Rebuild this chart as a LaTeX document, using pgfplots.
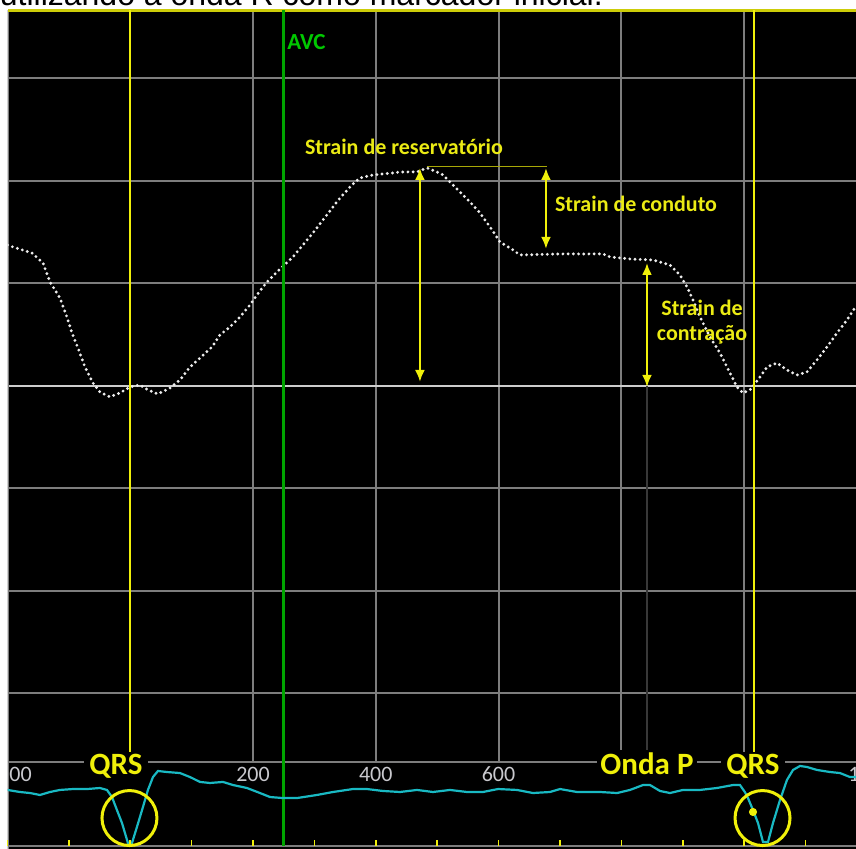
\documentclass[border=0pt]{standalone}
\usepackage{fontspec}
\setmainfont{Carlito}
\newfontfamily\arialf{Liberation Sans}
\usepackage{pgfplots}
\usepackage{pgfplotstable}
\pgfplotsset{compat=1.18}
\usetikzlibrary{arrows.meta}
\definecolor{ylw}{RGB}{240,240,10}
\definecolor{ytxt}{RGB}{235,235,20}
\definecolor{gridc}{RGB}{125,125,125}
\definecolor{zeroc}{RGB}{205,205,205}
\definecolor{ecgc}{RGB}{25,185,195}
\definecolor{grn}{RGB}{0,165,0}
\definecolor{grntxt}{RGB}{0,200,0}
\definecolor{tickc}{RGB}{200,200,205}
\definecolor{dotc}{RGB}{235,235,235}

\pgfplotstableread{
t y
-200 13.76
-191.1 13.56
-160.2 12.98
-142.2 12.0
-130.8 10.15
-114.6 8.59
-103.2 6.73
-95.0 5.17
-85.2 3.71
-73.8 1.85
-60.8 0.29
-49.4 -0.59
-33.1 -1.07
-16.8 -0.68
-0.5 -0.10
15.8 0.10
28.8 -0.39
45.1 -0.78
64.7 -0.20
81.0 0.59
97.3 1.85
113.6 2.73
133.1 3.80
146.1 4.98
162.4 5.76
178.7 6.73
195.0 7.90
206.4 8.88
222.7 10.15
243.9 11.41
265.1 12.59
281.3 13.76
297.6 14.93
314.0 16.20
330.2 17.46
341.7 18.34
361.1 19.61
374.2 20.29
395.4 20.59
427.9 20.78
439.4 20.88
467.1 20.88
483.4 21.27
499.7 20.88
509.4 20.59
520.9 19.90
537.2 18.93
553.5 17.95
569.7 16.88
586.1 15.51
602.4 14.05
623.5 13.27
634.9 12.78
700.1 12.88
770.1 12.88
781.5 12.59
814.1 12.39
851.6 12.29
879.2 11.80
895.5 10.83
907.0 9.66
916.8 8.39
928.1 6.73
944.4 4.78
960.7 3.22
977.0 1.27
988.4 -0.10
998.2 -0.68
1009.6 -0.39
1025.9 0.88
1037.3 1.85
1053.6 2.24
1069.8 1.56
1086.1 1.07
1102.4 1.37
1118.7 2.54
1135.0 3.80
1151.3 5.17
1167.6 6.44
1182.3 7.80
}\straindata

\pgfplotstableread{
t y
-200 -39.41
-179.7 -39.61
-163.4 -39.71
-147.1 -39.90
-130.8 -39.61
-114.6 -39.41
-93.3 -39.32
-70.6 -39.32
-49.4 -39.22
-38.0 -39.41
-29.8 -40.10
-21.7 -41.37
-13.5 -42.63
-3.8 -44.59
2.8 -44.59
10.9 -43.02
20.7 -41.07
28.8 -39.41
37.0 -38.15
45.1 -37.56
59.8 -37.66
81.0 -37.76
97.3 -38.15
113.6 -38.63
129.8 -38.73
151.1 -38.63
167.4 -38.93
190.1 -39.22
211.3 -39.71
227.6 -40.10
248.7 -40.20
271.6 -40.20
304.2 -39.90
330.2 -39.61
362.8 -39.32
385.6 -39.32
411.7 -39.51
439.4 -39.61
467.1 -39.41
493.1 -39.61
520.9 -39.41
548.6 -39.61
574.6 -39.61
599.1 -39.32
630.0 -39.41
656.1 -39.71
683.7 -39.61
700.1 -39.32
727.8 -39.61
765.2 -39.61
793.0 -39.71
814.1 -39.41
835.3 -38.93
846.7 -38.93
863.0 -39.51
879.2 -39.71
900.5 -39.41
928.1 -39.41
955.8 -39.22
981.9 -38.93
993.3 -38.93
1001.2 -39.61
1006.3 -40.20
1014.5 -41.37
1022.6 -42.63
1030.8 -44.49
1038.9 -44.49
1047.1 -42.63
1058.5 -40.39
1069.8 -38.44
1079.7 -37.46
1091.1 -37.07
1102.4 -37.17
1118.7 -37.46
1139.9 -37.66
1156.2 -37.76
1172.5 -38.15
1182.3 -38.15
}\ecgdata

\begin{document}
\begin{tikzpicture}
\node[anchor=base west, inner sep=0pt, font=\arialf\fontsize{16}{19}\selectfont] at (-4pt,421.5pt) {utilizando a onda R como marcador inicial.};
\begin{axis}[at={(0,0)}, anchor=south west, scale only axis,
  width=424.25pt, height=419.5pt,
  xmin=-200, xmax=1182.3, ymin=-45.17, ymax=36.68,
  axis line style={draw=none}, ticks=none,
  axis background/.style={fill=black}]
% vertical grid
\pgfplotsinvokeforeach{0,200,400,600,800,1000}{
  \addplot[gridc, line width=1pt] coordinates {(#1,36.68) (#1,-36.68)};
}
% horizontal grid
\pgfplotsinvokeforeach{-30,-20,-10,10,20,30}{
  \addplot[gridc, line width=1pt] coordinates {(-200,#1) (1182.3,#1)};
}
\addplot[zeroc, line width=1.2pt] coordinates {(-200,0) (1182.3,0)};
\addplot[gridc, line width=1pt] coordinates {(-200,-36.68) (1182.3,-36.68)};
\addplot[gridc, line width=1.4pt] coordinates {(-200,-44.88) (1182.3,-44.88)};
\addplot[gridc, line width=1pt] coordinates {(-199,36.68) (-199,-45.17)};
\addplot[ylw!85!black, line width=2pt] coordinates {(-200,36.68) (1182.3,36.68)};
\addplot[black!78!white, line width=0.6pt] coordinates {(841.8,0) (841.8,-36.68)};
% bottom ticks
\addplot[ylw, only marks, mark=|, mark size=1.5pt, mark options={line width=0.8pt}] coordinates {
(-200,-44.59) (-100,-44.59) (0,-44.59) (100,-44.59) (200,-44.59) (300,-44.59) (400,-44.59)
(500,-44.59) (600,-44.59) (700,-44.59) (800,-44.59) (900,-44.59) (1000,-44.59) (1100,-44.59)};
% strain curve
\addplot[dotc, line width=1.6pt, line cap=round, dash pattern=on 0pt off 2.6pt] table {\straindata};
% event lines
\addplot[grn, line width=1.5pt] coordinates {(249,36.68) (249,-44.88)};
\addplot[ylw, line width=1pt] coordinates {(0,36.68) (0,-35.7)};
\addplot[ylw, line width=1pt] coordinates {(1016.1,36.68) (1016.1,-35.7)};
% annotations
\addplot[ylw!70!black, line width=0.5pt] coordinates {(483.4,21.37) (679,21.37)};
\addplot[ylw, line width=1.2pt, {Latex[length=6pt,width=5pt]}-{Latex[length=6pt,width=5pt]}] coordinates {(471.9,21.27) (471.9,0.39)};
\addplot[ylw, line width=1.2pt, {Latex[length=6pt,width=5pt]}-{Latex[length=6pt,width=5pt]}] coordinates {(677.2,21.27) (677.2,13.37)};
\addplot[ylw, line width=1.2pt, {Latex[length=6pt,width=5pt]}-{Latex[length=6pt,width=5pt]}] coordinates {(841.8,12.0) (841.8,-0.1)};
\node[anchor=base, text=ytxt, font=\bfseries\fontsize{11}{13}\selectfont, inner sep=0pt] at (axis cs:445.9,22.54) {Strain de reservatório};
\node[anchor=base, text=ytxt, font=\bfseries\fontsize{11}{13}\selectfont, inner sep=0pt] at (axis cs:823.9,16.98) {Strain de conduto};
\node[anchor=base, text=ytxt, font=\bfseries\fontsize{11}{13}\selectfont, inner sep=0pt] at (axis cs:931.4,6.83) {Strain de};
\node[anchor=base, text=ytxt, font=\bfseries\fontsize{11}{13}\selectfont, inner sep=0pt] at (axis cs:931.4,4.39) {contração};
\node[anchor=base west, text=grntxt, font=\bfseries\fontsize{11.5}{12}\selectfont, inner sep=0pt] at (axis cs:255.4,32.78) {AVC};
% tick labels
\node[anchor=base, text=tickc, font=\fontsize{11}{11}\selectfont, inner sep=0pt] at (axis cs:200,-38.63) {200};
\node[anchor=base, text=tickc, font=\fontsize{11}{11}\selectfont, inner sep=0pt] at (axis cs:400,-38.63) {400};
\node[anchor=base, text=tickc, font=\fontsize{11}{11}\selectfont, inner sep=0pt] at (axis cs:600,-38.63) {600};
\node[anchor=base west, text=tickc, font=\fontsize{11}{11}\selectfont, inner sep=0pt] at (axis cs:-197.6,-38.63) {00};
\node[anchor=base west, text=tickc, font=\fontsize{11}{11}\selectfont, inner sep=0pt] at (axis cs:1169.3,-38.63) {1};
% ECG labels
\node[anchor=base, fill=black, inner xsep=2.5pt, inner ysep=1.5pt, text=ylw, font=\bfseries\fontsize{15.5}{16}\selectfont] at (axis cs:-23.3,-37.95) {QRS};
\node[anchor=base, fill=black, inner xsep=1.5pt, inner ysep=1.5pt, text=ylw, font=\bfseries\fontsize{15.5}{16}\selectfont] at (axis cs:841.8,-37.95) {Onda P};
\node[anchor=base, fill=black, inner xsep=2.5pt, inner ysep=1.5pt, text=ylw, font=\bfseries\fontsize{15.5}{16}\selectfont] at (axis cs:1014.5,-37.95) {QRS};
% ECG trace
\addplot[ecgc, line width=1.1pt] table {\ecgdata};
\addplot[ylw, only marks, mark=o, mark size=13.75pt, mark options={line width=1.5pt}] coordinates {(-1.3,-42.15) (1030,-42.15)};
\addplot[ylw, only marks, mark=*, mark size=1.8pt] coordinates {(1014.5,-41.56)};
\end{axis}
\pgfresetboundingbox
\path[use as bounding box] (-3.75pt,0) rectangle (424.25pt,424.5pt);
\end{tikzpicture}
\end{document}
